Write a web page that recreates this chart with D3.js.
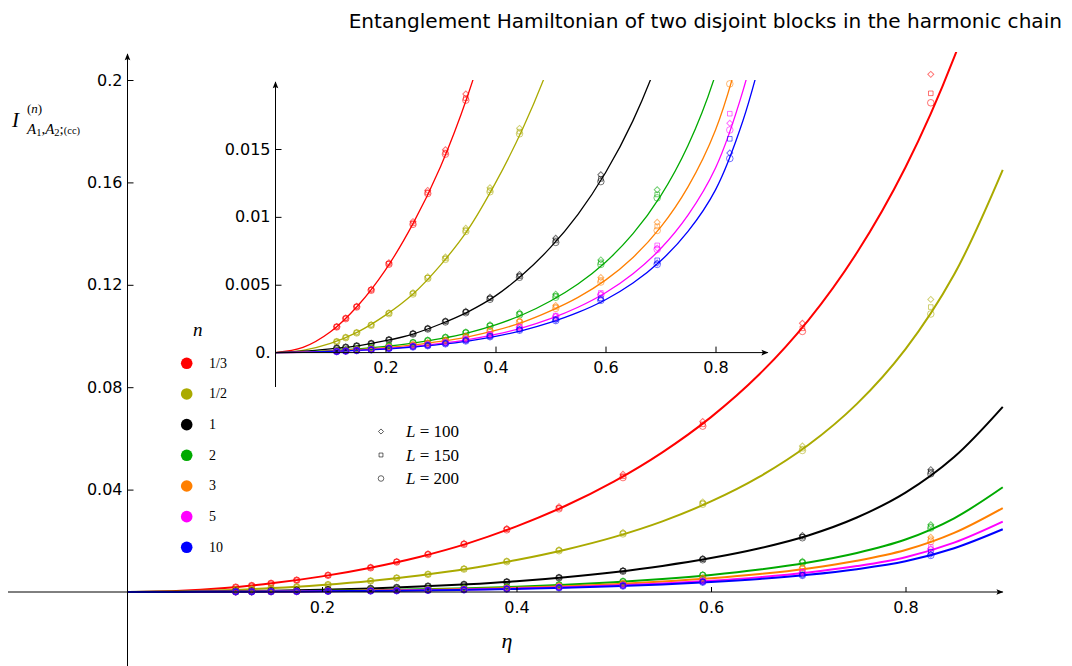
<!DOCTYPE html>
<html>
<head>
<meta charset="utf-8">
<script src="https://cdn.jsdelivr.net/npm/d3@7"></script>
<style>
  body { margin: 0; background: #ffffff; }
  svg { display: block; }
</style>
</head>
<body>
<svg id="chart" width="1072" height="666"></svg>
<script>
// ---- data -------------------------------------------------------------
const titleText = "Entanglement Hamiltonian of two disjoint blocks in the harmonic chain";

const nLabels = ["1/3", "1/2", "1", "2", "3", "5", "10"];
const nColors = ["#ff0000", "#aaaa00", "#000000", "#00aa00", "#ff7f00", "#ff00ff", "#0000ff"];
const lLabels = ["100", "150", "200"];

// cross ratio values of the lattice configurations
const etaData = [0.1113, 0.1277, 0.1476, 0.174, 0.2062, 0.250, 0.2768, 0.309, 0.346,
                 0.390, 0.4437, 0.5095, 0.5915, 0.694, 0.826];

// continuum prediction, sampled in eta
const etaCurve = [0, 0.05, 0.1, 0.15, 0.2, 0.25, 0.3, 0.35, 0.4, 0.45, 0.5, 0.55,
                  0.6, 0.65, 0.7, 0.75, 0.8, 0.85, 0.9];
const curveN13 = [0, 0.00038, 0.00153, 0.00347, 0.0061, 0.0095, 0.0137, 0.0190, 0.02565,
                  0.0336, 0.04314, 0.05457, 0.06832, 0.08513, 0.1061, 0.1325, 0.1659, 0.2088, 0.2652];
const curveN12 = [0, 0.00017, 0.00068, 0.00153, 0.00276, 0.00432, 0.00645, 0.00906, 0.0125,
                  0.01654, 0.02145, 0.02761, 0.03537, 0.04506, 0.0574, 0.07348, 0.09487, 0.1240, 0.1649];
const curveN1  = [0, 0.0001, 0.000278, 0.000503, 0.000874, 0.00137, 0.002106, 0.003003, 0.004177,
                  0.00577, 0.00775, 0.01019, 0.01325, 0.01709, 0.0221, 0.0291, 0.0388, 0.0527, 0.0723];
const curveN2  = [0, 0.00004, 0.00014, 0.000268, 0.000453, 0.000703, 0.001027, 0.001458, 0.002038,
                  0.002806, 0.003805, 0.005057, 0.00666, 0.00876, 0.01153, 0.01526, 0.0205, 0.0288, 0.0409];
const curveN3  = [0, 0.000032, 0.000112, 0.000214, 0.000362, 0.000562, 0.000822, 0.001166, 0.00163,
                  0.002245, 0.00307, 0.004065, 0.00534, 0.00701, 0.00922, 0.01221, 0.0164, 0.0231, 0.0328];
const curveN5  = [0, 0.000026, 0.000092, 0.000176, 0.000298, 0.000462, 0.000675, 0.000958, 0.00134,
                  0.00184, 0.0025, 0.00334, 0.00441, 0.00581, 0.00765, 0.01013, 0.0136, 0.0193, 0.0275];
const curveN10 = [0, 0.000023, 0.000082, 0.000157, 0.000265, 0.000411, 0.000601, 0.000853, 0.001192,
                  0.001642, 0.002226, 0.002958, 0.003896, 0.005125, 0.006745, 0.008927, 0.01199, 0.0171, 0.0245];

// lattice data, one array per n and per block length L
const ptsN13L100 = [0.00192, 0.00255, 0.00342, 0.00467, 0.00662, 0.00965, 0.01195, 0.01495, 0.01905, 0.0248, 0.0333, 0.0460, 0.0666, 0.1050, 0.2022];
const ptsN13L150 = [0.00190, 0.00252, 0.00338, 0.00462, 0.00655, 0.00952, 0.01180, 0.01474, 0.01875, 0.0245, 0.0328, 0.0452, 0.0655, 0.1030, 0.1948];
const ptsN13L200 = [0.00189, 0.00250, 0.00336, 0.00459, 0.00651, 0.00945, 0.01172, 0.01462, 0.01860, 0.0243, 0.0325, 0.0447, 0.0648, 0.1018, 0.1911];

const ptsN12L100 = [0.00082, 0.00113, 0.00149, 0.00206, 0.00294, 0.00442, 0.00559, 0.00704, 0.00916, 0.01215, 0.01652, 0.0233, 0.0352, 0.0570, 0.1143];
const ptsN12L150 = [0.00081, 0.00111, 0.00147, 0.00203, 0.00290, 0.00436, 0.00551, 0.00694, 0.00902, 0.01197, 0.01628, 0.0229, 0.0347, 0.0560, 0.1113];
const ptsN12L200 = [0.00080, 0.00110, 0.00145, 0.00201, 0.00287, 0.00432, 0.00546, 0.00687, 0.00893, 0.01185, 0.01612, 0.0227, 0.0343, 0.0553, 0.1086];

const ptsN1L100 = [0.00034, 0.00041, 0.00051, 0.00069, 0.00097, 0.00142, 0.00180, 0.00234, 0.00305, 0.00408, 0.00575, 0.00842, 0.0131, 0.0221, 0.0478];
const ptsN1L150 = [0.00033, 0.00040, 0.00050, 0.00067, 0.00095, 0.00139, 0.00177, 0.00230, 0.00299, 0.00400, 0.00564, 0.00826, 0.0128, 0.0216, 0.0470];
const ptsN1L200 = [0.00032, 0.00039, 0.00049, 0.00066, 0.00093, 0.00137, 0.00174, 0.00226, 0.00294, 0.00393, 0.00555, 0.00812, 0.0126, 0.0212, 0.0462];

const ptsN2L100 = [0.00015, 0.00019, 0.00027, 0.00037, 0.00053, 0.00077, 0.00093, 0.00116, 0.00153, 0.00205, 0.00293, 0.00430, 0.00683, 0.0120, 0.0263];
const ptsN2L150 = [0.000145, 0.000185, 0.00026, 0.00036, 0.00052, 0.00075, 0.00090, 0.00113, 0.00149, 0.00200, 0.00285, 0.00418, 0.00665, 0.01165, 0.0256];
const ptsN2L200 = [0.00014, 0.00018, 0.00025, 0.00035, 0.00050, 0.00073, 0.00088, 0.00110, 0.00145, 0.00194, 0.00278, 0.00408, 0.00650, 0.0114, 0.0250];

const ptsN3L100 = [0.000116, 0.000148, 0.00021, 0.00029, 0.00041, 0.00060, 0.00072, 0.00093, 0.00122, 0.00167, 0.00236, 0.00347, 0.00553, 0.0096, 0.0214];
const ptsN3L150 = [0.000113, 0.000144, 0.000205, 0.00028, 0.00040, 0.00058, 0.00070, 0.00090, 0.00118, 0.00162, 0.00229, 0.00336, 0.00535, 0.0093, 0.0206];
const ptsN3L200 = [0.00011, 0.00014, 0.00020, 0.00027, 0.00039, 0.00056, 0.00068, 0.00087, 0.00115, 0.00157, 0.00222, 0.00326, 0.00520, 0.0090, 0.0198];

const ptsN5L100 = [0.000092, 0.000122, 0.000173, 0.000235, 0.000335, 0.00048, 0.00058, 0.00075, 0.00098, 0.00133, 0.00188, 0.00268, 0.0043, 0.0077, 0.0169];
const ptsN5L150 = [0.000093, 0.000124, 0.000175, 0.00024, 0.00034, 0.00049, 0.00059, 0.00076, 0.00100, 0.00135, 0.00192, 0.00273, 0.0044, 0.0079, 0.0176];
const ptsN5L200 = [0.00009, 0.00012, 0.00017, 0.00023, 0.00033, 0.00047, 0.00057, 0.00073, 0.00096, 0.00130, 0.00185, 0.00263, 0.00425, 0.0076, 0.0164];

const ptsN10L100 = [0.000082, 0.000112, 0.000153, 0.000214, 0.000305, 0.00043, 0.00052, 0.00066, 0.00088, 0.00119, 0.00168, 0.00240, 0.0039, 0.0066, 0.0147];
const ptsN10L150 = [0.000083, 0.000114, 0.000155, 0.000218, 0.00031, 0.00044, 0.00053, 0.00068, 0.00090, 0.00122, 0.00172, 0.00246, 0.0040, 0.0068, 0.01575];
const ptsN10L200 = [0.00008, 0.00011, 0.00015, 0.00021, 0.00030, 0.00042, 0.00051, 0.00065, 0.00086, 0.00117, 0.00165, 0.00236, 0.00385, 0.0065, 0.0143];

// axis ticks
const mainXTicks = [0.2, 0.4, 0.6, 0.8];
const mainYTicks = [0.04, 0.08, 0.12, 0.16, 0.2];
const mainYTickLabels = ["0.04", "0.08", "0.12", "0.16", "0.2"];
const insetXTicks = [0.2, 0.4, 0.6, 0.8];
const insetYTicks = [0, 0.005, 0.01, 0.015];
const insetYTickLabels = ["0.", "0.005", "0.01", "0.015"];

// ---- assembly -----------------------------------------------------------
const curves = [curveN13, curveN12, curveN1, curveN2, curveN3, curveN5, curveN10];
const points = [
  [ptsN13L100, ptsN13L150, ptsN13L200],
  [ptsN12L100, ptsN12L150, ptsN12L200],
  [ptsN1L100, ptsN1L150, ptsN1L200],
  [ptsN2L100, ptsN2L150, ptsN2L200],
  [ptsN3L100, ptsN3L150, ptsN3L200],
  [ptsN5L100, ptsN5L150, ptsN5L200],
  [ptsN10L100, ptsN10L150, ptsN10L200]
];
const series = nLabels.map((lab, i) => ({
  label: lab, color: nColors[i],
  curve: etaCurve.map((e, k) => [e, curves[i][k]]),
  sets: points[i].map(arr => etaData.map((e, k) => [e, arr[k]]))
}));

const SANS = "'DejaVu Sans', 'Liberation Sans', Arial, sans-serif";
const SERIF = "'Liberation Serif', 'Times New Roman', 'DejaVu Serif', serif";

const svg = d3.select("#chart");

// arrow head for the axes
const defs = svg.append("defs");
defs.append("marker")
  .attr("id", "arrow").attr("viewBox", "0 0 10 10")
  .attr("refX", 9).attr("refY", 5)
  .attr("markerWidth", 10).attr("markerHeight", 7)
  .attr("markerUnits", "userSpaceOnUse")
  .attr("orient", "auto")
  .append("path").attr("d", "M0,1 L10,5 L0,9 L2,5 Z").attr("fill", "#000");

// scales: main panel and inset
const x = d3.scaleLinear().domain([0, 0.9]).range([127.5, 1002.75]);
const y = d3.scaleLinear().domain([0, 0.2]).range([592, 80]);
const xi = d3.scaleLinear().domain([0, 0.8]).range([275.5, 715.5]);
const yi = d3.scaleLinear().domain([0, 0.015]).range([352.6, 149]);

defs.append("clipPath").attr("id", "clipMain")
  .append("rect").attr("x", 100).attr("y", 52).attr("width", 920).attr("height", 620);
defs.append("clipPath").attr("id", "clipInset")
  .append("rect").attr("x", 250).attr("y", 80).attr("width", 560).attr("height", 320);

// marker shapes for the three block lengths
const diamondPath = d3.symbol(d3.symbolSquare, 18)();
const squarePath = d3.symbol(d3.symbolSquare, 21)();

function drawMarker(g, kind, cx, cy, color, opacity, sw, scale = 1) {
  if (kind === 0) {
    g.append("path").attr("d", diamondPath)
      .attr("transform", `translate(${cx},${cy}) rotate(45) scale(${scale})`)
      .attr("fill", "none").attr("stroke", color)
      .attr("stroke-opacity", opacity).attr("stroke-width", sw / scale);
  } else if (kind === 1) {
    g.append("path").attr("d", squarePath)
      .attr("transform", `translate(${cx},${cy}) scale(${scale})`)
      .attr("fill", "none").attr("stroke", color)
      .attr("stroke-opacity", opacity).attr("stroke-width", sw / scale);
  } else {
    g.append("circle").attr("cx", cx).attr("cy", cy).attr("r", 3.3 * scale)
      .attr("fill", "none").attr("stroke", color)
      .attr("stroke-opacity", opacity).attr("stroke-width", sw);
  }
}

function drawPanel(xs, ys, lineWidth, clipId) {
  const g = svg.append("g").attr("clip-path", `url(#${clipId})`);
  const line = d3.line().x(d => xs(d[0])).y(d => ys(d[1])).curve(d3.curveCatmullRom.alpha(0.5));
  series.forEach(s => {
    g.append("path").datum(s.curve).attr("d", line)
      .attr("fill", "none").attr("stroke", s.color)
      .attr("stroke-width", lineWidth);
  });
  series.forEach(s => {
    s.sets.forEach((set, kind) => {
      set.forEach(d => drawMarker(g, kind, xs(d[0]), ys(d[1]), s.color, 0.55, 1));
    });
  });
}

// ---- main panel -----------------------------------------------------
drawPanel(x, y, 2, "clipMain");

// main axes
svg.append("line").attr("x1", 8).attr("x2", x(0.9)).attr("y1", y(0)).attr("y2", y(0))
  .attr("stroke", "#000").attr("stroke-width", 1).attr("marker-end", "url(#arrow)");
svg.append("line").attr("x1", x(0)).attr("x2", x(0)).attr("y1", 666).attr("y2", 54)
  .attr("stroke", "#000").attr("stroke-width", 1).attr("marker-end", "url(#arrow)");

const xAxis = svg.append("g").attr("transform", `translate(0,${y(0)})`)
  .call(d3.axisBottom(x).tickValues(mainXTicks).tickSizeInner(-5).tickSizeOuter(0)
    .tickPadding(10).tickFormat(d3.format(".1f")));
xAxis.select(".domain").remove();
xAxis.selectAll("text").attr("font-family", SANS).attr("font-size", 16).attr("fill", "#000");

const yAxis = svg.append("g").attr("transform", `translate(${x(0)},0)`)
  .call(d3.axisLeft(y).tickValues(mainYTicks).tickSizeInner(-6).tickSizeOuter(0)
    .tickPadding(5).tickFormat((d, i) => mainYTickLabels[i]));
yAxis.select(".domain").remove();
yAxis.selectAll("text").attr("font-family", SANS).attr("font-size", 16).attr("fill", "#000");

// ---- inset panel ----------------------------------------------------
drawPanel(xi, yi, 1.3, "clipInset");

svg.append("line").attr("x1", xi(0)).attr("x2", xi(0.895)).attr("y1", yi(0)).attr("y2", yi(0))
  .attr("stroke", "#000").attr("stroke-width", 1).attr("marker-end", "url(#arrow)");
svg.append("line").attr("x1", xi(0)).attr("x2", xi(0)).attr("y1", 387).attr("y2", 82)
  .attr("stroke", "#000").attr("stroke-width", 1).attr("marker-end", "url(#arrow)");

const xiAxis = svg.append("g").attr("transform", `translate(0,${yi(0)})`)
  .call(d3.axisBottom(xi).tickValues(insetXTicks).tickSizeInner(-6).tickSizeOuter(0)
    .tickPadding(9).tickFormat(d3.format(".1f")));
xiAxis.select(".domain").remove();
xiAxis.selectAll("text").attr("font-family", SANS).attr("font-size", 16).attr("fill", "#000");

const yiAxis = svg.append("g").attr("transform", `translate(${xi(0)},0)`)
  .call(d3.axisLeft(yi).tickValues(insetYTicks).tickSizeInner(-6).tickSizeOuter(0)
    .tickPadding(5).tickFormat((d, i) => insetYTickLabels[i]));
yiAxis.select(".domain").remove();
yiAxis.selectAll(".tick").filter(d => d === 0).select("line").remove();
yiAxis.selectAll("text").attr("font-family", SANS).attr("font-size", 16).attr("fill", "#000");

// ---- texts ----------------------------------------------------------
svg.append("text").attr("x", 1062).attr("y", 28).attr("text-anchor", "end")
  .attr("font-family", SANS).attr("font-size", 20.1).attr("fill", "#000")
  .text(titleText);

// y label  I^{(n)}_{A1,A2;(cc)}
svg.append("text").attr("x", 12).attr("y", 127)
  .attr("font-family", SERIF).attr("font-style", "italic").attr("font-size", 21).text("I");
const sup = svg.append("text").attr("x", 27).attr("y", 113)
  .attr("font-family", SERIF).attr("font-size", 13);
sup.append("tspan").text("(");
sup.append("tspan").attr("font-style", "italic").text("n");
sup.append("tspan").text(")");
const sub = svg.append("text").attr("x", 27).attr("y", 134)
  .attr("font-family", SERIF).attr("font-size", 15);
sub.append("tspan").attr("font-style", "italic").text("A");
sub.append("tspan").attr("font-size", 10.5).attr("dy", 2).text("1");
sub.append("tspan").attr("dy", -2).text(",");
sub.append("tspan").attr("font-style", "italic").text("A");
sub.append("tspan").attr("font-size", 10.5).attr("dy", 2).text("2");
sub.append("tspan").attr("dy", -2).text(";");
sub.append("tspan").attr("font-size", 10.5).attr("dy", 0).text("(cc)");

// x label
svg.append("text").attr("x", 507).attr("y", 648).attr("text-anchor", "middle")
  .attr("font-family", SERIF).attr("font-style", "italic").attr("font-size", 22).text("η");

// legend for n
svg.append("text").attr("x", 193).attr("y", 336)
  .attr("font-family", SERIF).attr("font-style", "italic").attr("font-size", 19).text("n");
const legN = svg.append("g");
nLabels.forEach((lab, i) => {
  const cy = 363.3 + i * 30.67;
  legN.append("circle").attr("cx", 186.7).attr("cy", cy).attr("r", 5.8).attr("fill", nColors[i]);
  legN.append("text").attr("x", 209).attr("y", cy + 4.5)
    .attr("font-family", SERIF).attr("font-size", 14).attr("fill", "#000").text(lab);
});

// legend for L
const legL = svg.append("g");
lLabels.forEach((lab, i) => {
  const cy = 431.5 + i * 23.5;
  drawMarker(legL, i, 381, cy, "#000", 0.75, 0.8, 0.85);
  const t = legL.append("text").attr("x", 406).attr("y", cy + 5.5)
    .attr("font-family", SERIF).attr("font-size", 17).attr("fill", "#000");
  t.append("tspan").attr("font-style", "italic").text("L");
  t.append("tspan").text(" = " + lab);
});
</script>
</body>
</html>
